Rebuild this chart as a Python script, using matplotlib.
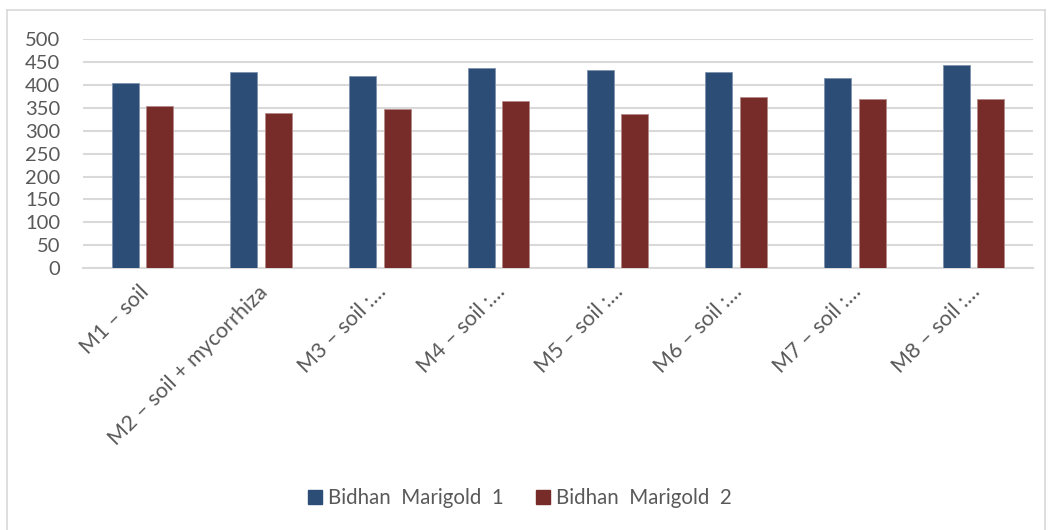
import matplotlib
matplotlib.use("Agg")
import matplotlib.pyplot as plt
import numpy as np
from matplotlib.lines import Line2D
import matplotlib.transforms as mtransforms

categories = ["M1 – soil", "M2 – soil + mycorrhiza", "M3 – soil :…", "M4 – soil :…",
              "M5 – soil :…", "M6 – soil :…", "M7 – soil :…", "M8 – soil :…"]
series1_name = "Bidhan  Marigold  1"
series2_name = "Bidhan  Marigold  2"
series1 = [404, 428, 419, 438, 433, 429, 415, 444]
series2 = [354, 338, 347, 365, 336, 374, 369, 369]
yticks = [0, 50, 100, 150, 200, 250, 300, 350, 400, 450, 500]

plt.rcParams['font.family'] = ['Lato', 'DejaVu Sans']
W, H = 1053, 530
fig = plt.figure(figsize=(W / 100, H / 100), dpi=100)
ax = fig.add_axes([83 / W, 1 - 268 / H, (1033 - 83) / W, (268 - 39.3) / H])

c1 = "#2c4d75"
c2 = "#772c2a"
x = np.arange(len(categories))
bw = 0.228
off = 0.145
ax.bar(x - off, series1, bw, color=c1, edgecolor="#7f93ad", linewidth=0.6, label=series1_name, zorder=3)
ax.bar(x + off, series2, bw, color=c2, edgecolor="#b58a89", linewidth=0.6, label=series2_name, zorder=3)

ax.set_xlim(-0.5, len(categories) - 0.5)
ax.set_ylim(0, 500)
ax.set_yticks(yticks)
ax.set_yticklabels([str(v) for v in yticks])
ax.yaxis.grid(True, color="#d9d9d9", linewidth=1.5, zorder=0)
ax.set_axisbelow(True)
for s in ["top", "right", "left"]:
    ax.spines[s].set_visible(False)
ax.spines["bottom"].set_color("#d9d9d9")
ax.spines["bottom"].set_linewidth(1.5)
ax.tick_params(axis="both", length=0, colors="#595959")
ax.tick_params(axis="y", pad=16.5, labelsize=14.5)
ax.tick_params(axis="x", pad=10, labelsize=15.5)
ax.set_xticks(x)
ax.set_xticklabels(categories, rotation=45, ha="right", va="top", rotation_mode="anchor")
shift = mtransforms.ScaledTranslation(-4 / 100, 0, fig.dpi_scale_trans)
for lab in ax.get_xticklabels():
    lab.set_color("#595959")
    lab.set_transform(lab.get_transform() + shift)

handles = [plt.Rectangle((0, 0), 1, 1, color=c1), plt.Rectangle((0, 0), 1, 1, color=c2)]
leg = fig.legend(handles, [series1_name, series2_name], loc="center", bbox_to_anchor=(520 / W, 1 - 498 / H),
                 ncol=2, frameon=False, fontsize=14.8, handlelength=0.65, handleheight=0.65,
                 handletextpad=0.3, columnspacing=1.6)
for t in leg.get_texts():
    t.set_color("#595959")

# chart frame
fig.add_artist(Line2D([7 / W, 7 / W], [0, 1 - 10 / H], transform=fig.transFigure, color="#d9d9d9", linewidth=1.2))
fig.add_artist(Line2D([7 / W, 1045 / W], [1 - 10 / H, 1 - 10 / H], transform=fig.transFigure, color="#d9d9d9", linewidth=1.2))
fig.add_artist(Line2D([1045 / W, 1045 / W], [0, 1 - 10 / H], transform=fig.transFigure, color="#d9d9d9", linewidth=1.2))

fig.savefig("out.png", dpi=100)
